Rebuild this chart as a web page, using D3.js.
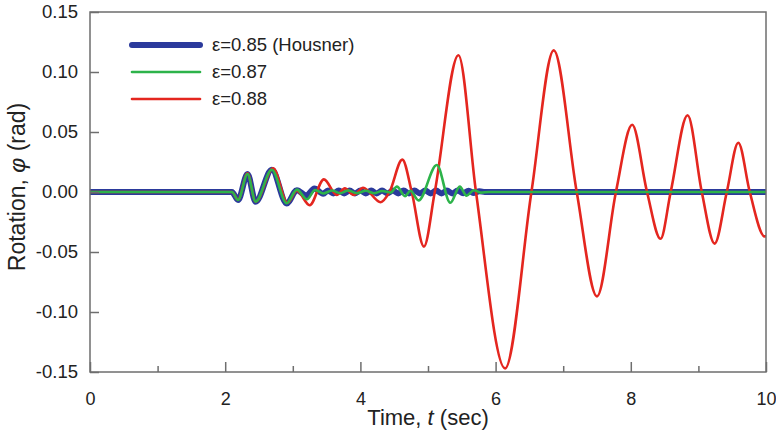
<!DOCTYPE html>
<html>
<head>
<meta charset="utf-8">
<script src="https://cdn.jsdelivr.net/npm/d3@7"></script>
<style>
  html, body { margin: 0; padding: 0; background: #fff; }
  svg { display: block; font-family: "Liberation Sans", Arial, sans-serif; }
</style>
</head>
<body>
<svg id="chart" width="776" height="432"></svg>
<script>
// Rocking response phi(t) for three restitution coefficients, [time (s), rotation (rad)]
const housnerSeries = [
  [0, 0], [2.1, 0], [2.19, -0.0067], [2.33, 0.015], [2.45, -0.0082], [2.69, 0.0185],
  [2.91, -0.0096], [3.06, 0.0015], [3.2, -0.003], [3.32, 0.003], [3.45, -0.0015],
  [3.52, 0.0012], [3.6, -0.0012], [3.68, 0.0012], [3.76, -0.0012], [3.84, 0.0012],
  [3.92, -0.0012], [4.0, 0.0012], [4.08, -0.0012], [4.16, 0.0012], [4.24, -0.0012],
  [4.32, 0.0012], [4.4, -0.0012], [4.48, 0.0012], [4.56, -0.0012], [4.64, 0.0012],
  [4.72, -0.0012], [4.8, 0.0012], [4.88, -0.0012], [4.96, 0.0012], [5.04, -0.0012],
  [5.12, 0.0012], [5.2, -0.0012], [5.28, 0.0012], [5.36, -0.0012], [5.44, 0.0012],
  [5.52, -0.001], [5.6, 0.001], [5.68, -0.0008], [5.76, 0.0006], [5.84, 0], [10, 0]
];
const eps087Series = [
  [0, 0], [2.1, 0], [2.19, -0.0067], [2.33, 0.015], [2.45, -0.008], [2.69, 0.0185],
  [2.91, -0.0094], [3.06, 0.002], [3.21, -0.006], [3.33, 0.0017], [3.45, -0.0012],
  [3.58, 0.0012], [3.7, -0.001], [3.82, 0.0012], [3.95, -0.001], [4.08, 0.001],
  [4.2, -0.001], [4.32, 0.0008], [4.45, -0.0005], [4.54, 0.0045], [4.66, -0.0035],
  [4.74, 0.001], [4.86, -0.007], [5.13, 0.0225], [5.33, -0.009], [5.47, 0.0045],
  [5.57, -0.003], [5.68, 0.0015], [5.78, -0.0005], [5.9, 0], [10, 0]
];
const eps088Series = [
  [0, 0], [2.1, 0], [2.19, -0.0065], [2.33, 0.0155], [2.45, -0.008], [2.71, 0.0198],
  [2.92, -0.009], [3.06, 0.001], [3.25, -0.011], [3.46, 0.0105], [3.65, -0.0025],
  [3.77, 0.003], [3.9, -0.0025], [4.04, 0.0035], [4.3, -0.0085], [4.43, 0],
  [4.62, 0.027], [4.76, 0], [4.94, -0.0455], [5.1, 0], [5.45, 0.114], [5.71, 0],
  [6.14, -0.147], [6.53, 0], [6.86, 0.118], [7.2, 0], [7.5, -0.087], [7.78, 0],
  [8.02, 0.056], [8.24, 0], [8.44, -0.039], [8.59, 0], [8.84, 0.064], [9.05, 0],
  [9.24, -0.043], [9.42, 0], [9.59, 0.041], [9.76, 0], [9.98, -0.037], [10, -0.0368]
];

const seriesNames = ["ε=0.85 (Housner)", "ε=0.87", "ε=0.88"];
const xTickValues = [0, 2, 4, 6, 8, 10];
const xMinorTickValues = [1, 3, 5, 7, 9];
const yTickValues = [-0.15, -0.10, -0.05, 0.00, 0.05, 0.10, 0.15];

const margin = { left: 90, right: 10, top: 12, bottom: 60 };
const W = 776, H = 432;
const svg = d3.select("#chart");

const x = d3.scaleLinear().domain([0, 10]).range([margin.left, W - margin.right]);
const y = d3.scaleLinear().domain([-0.15, 0.15]).range([H - margin.bottom, margin.top]);

const axisColor = "#6e6e6e";
const textColor = "#222";

// Plot curves (clipped to the frame)
svg.append("clipPath").attr("id", "plotClip")
  .append("rect").attr("x", x(0)).attr("y", y(0.15))
  .attr("width", x(10) - x(0)).attr("height", y(-0.15) - y(0.15));

const line = d3.line().x(d => x(d[0])).y(d => y(d[1])).curve(d3.curveMonotoneX);

const styles = [
  { data: housnerSeries, color: "#2b3a9c", width: 6 },
  { data: eps088Series, color: "#e4261f", width: 2.6 },
  { data: eps087Series, color: "#2db34a", width: 2.6 }
];

const plot = svg.append("g").attr("clip-path", "url(#plotClip)");
styles.forEach(s => {
  plot.append("path").datum(s.data)
    .attr("d", line)
    .attr("fill", "none")
    .attr("stroke", s.color)
    .attr("stroke-width", s.width)
    .attr("stroke-linejoin", "round")
    .attr("stroke-linecap", "round");
});

// Frame
svg.append("rect")
  .attr("x", x(0)).attr("y", y(0.15))
  .attr("width", x(10) - x(0)).attr("height", y(-0.15) - y(0.15))
  .attr("fill", "none").attr("stroke", axisColor).attr("stroke-width", 1.5);

// Bottom axis: inward ticks, labels below
const xAxis = d3.axisBottom(x).tickValues(xTickValues).tickSize(-10).tickPadding(20)
  .tickFormat(d3.format("d"));
const gx = svg.append("g").attr("transform", `translate(0,${y(-0.15)})`).call(xAxis);
gx.select(".domain").remove();
gx.selectAll(".tick line").attr("stroke", axisColor).attr("stroke-width", 1.5);
gx.selectAll(".tick text").attr("fill", textColor).attr("font-size", 18)
  .attr("font-family", "Liberation Sans, Arial, sans-serif");

const xMinor = d3.axisBottom(x).tickValues(xMinorTickValues).tickSize(-6).tickFormat("");
const gxm = svg.append("g").attr("transform", `translate(0,${y(-0.15)})`).call(xMinor);
gxm.select(".domain").remove();
gxm.selectAll(".tick line").attr("stroke", axisColor).attr("stroke-width", 1.5);

// Left axis: inward ticks, labels to the left (plain hyphen for negatives)
const fmt2 = d3.format(".2f");
const yAxis = d3.axisLeft(y).tickValues(yTickValues).tickSize(-9).tickPadding(12)
  .tickFormat(d => fmt2(d).replace("−", "-"));
const gy = svg.append("g").attr("transform", `translate(${x(0)},0)`).call(yAxis);
gy.select(".domain").remove();
gy.selectAll(".tick line").attr("stroke", axisColor).attr("stroke-width", 1.5);
gy.selectAll(".tick text").attr("fill", textColor).attr("font-size", 18.5)
  .attr("font-family", "Liberation Sans, Arial, sans-serif");

// Axis titles
const xTitle = svg.append("text")
  .attr("x", (x(0) + x(10)) / 2).attr("y", 425)
  .attr("text-anchor", "middle").attr("font-size", 22).attr("fill", textColor);
xTitle.append("tspan").text("Time, ");
xTitle.append("tspan").attr("font-style", "italic").text("t");
xTitle.append("tspan").text(" (sec)");

const yTitle = svg.append("text")
  .attr("transform", `translate(25,187) rotate(-90)`)
  .attr("text-anchor", "middle").attr("font-size", 23).attr("fill", textColor);
yTitle.append("tspan").text("Rotation, ");
yTitle.append("tspan").attr("font-style", "italic").text("φ");
yTitle.append("tspan").text(" (rad)");

// Legend
const legendColors = ["#2b3a9c", "#2db34a", "#e4261f"];
const legendWidths = [6, 2.6, 2.6];
const legend = svg.append("g");
seriesNames.forEach((name, i) => {
  const ly = 45 + i * 27;
  legend.append("line")
    .attr("x1", 132).attr("x2", 200).attr("y1", ly).attr("y2", ly)
    .attr("stroke", legendColors[i]).attr("stroke-width", legendWidths[i])
    .attr("stroke-linecap", "round");
  legend.append("text")
    .attr("x", 212).attr("y", ly).attr("dy", "0.35em")
    .attr("font-size", 18.5).attr("fill", textColor).text(name);
});
</script>
</body>
</html>
